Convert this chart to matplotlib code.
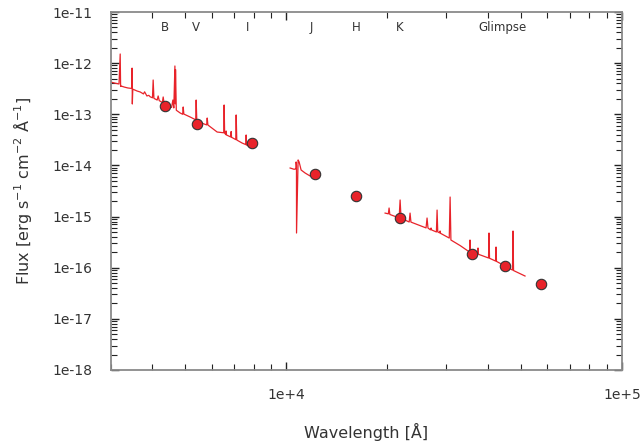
import matplotlib
matplotlib.use("Agg")
import matplotlib.pyplot as plt
from matplotlib.ticker import LogLocator, NullFormatter, FixedLocator

# photometric points (Angstrom, erg/s/cm2/A)
phot_wave = [4365, 5435, 7925, 12200, 16150, 21830, 35800, 44900, 57400]
phot_flux = [1.45e-13, 6.45e-14, 2.75e-14, 6.8e-15, 2.5e-15, 9.3e-16, 1.85e-16, 1.08e-16, 4.8e-17]

# band labels on top
band_names = ["B", "V", "I", "J", "H", "K", "Glimpse"]
band_wave = [4365, 5397, 7700, 11850, 16150, 21830, 44000]

# optical spectrum
opt_wave = [3000, 3100, 3180, 3206, 3215, 3225, 3300, 3380, 3470, 3478, 3484, 3495,
            3600, 3677, 3760, 3790, 3850, 3900, 3937, 4000, 4019, 4040, 4131, 4159,
            4190, 4280, 4305, 4330, 4365, 4560, 4600, 4630, 4665, 4675, 4685, 4710,
            4837, 4920, 4938, 4960, 5179, 5380, 5397, 5420, 5650, 5800, 5821, 5850,
            6232, 6520, 6538, 6560, 6610, 6628, 6645, 6840, 6860, 6880, 7080, 7100,
            7130, 7397, 7590, 7603, 7620, 7977]
opt_flux = [4.28e-13, 4.05e-13, 3.91e-13, 1.51e-12, 3.5e-13, 3.57e-13, 3.4e-13, 3.27e-13, 3.2e-13, 8.0e-13, 1.59e-13, 3.1e-13,
            2.85e-13, 2.73e-13, 2.5e-13, 2.75e-13, 2.28e-13, 2.35e-13, 2.2e-13, 2.1e-13, 4.68e-13, 2.05e-13, 1.9e-13, 2.28e-13,
            1.85e-13, 1.7e-13, 2.18e-13, 1.66e-13, 1.45e-13, 1.36e-13, 1.9e-13, 1.33e-13, 8.8e-13, 1.6e-13, 7.5e-13, 1.2e-13,
            1.06e-13, 1.0e-13, 1.39e-13, 1.01e-13, 8.85e-14, 7.8e-14, 1.9e-13, 7.73e-14, 6.6e-14, 6.2e-14, 8.45e-14, 6.17e-14,
            4.5e-14, 4.35e-14, 1.52e-13, 4.3e-14, 4.0e-14, 4.71e-14, 3.94e-14, 3.6e-14, 4.6e-14, 3.55e-14, 3.2e-14, 9.7e-14,
            3.14e-14, 2.74e-14, 2.55e-14, 3.94e-14, 2.51e-14, 2.19e-14]

# near-IR spectrum
nir_wave = [10278, 10563, 10700, 10710, 10735, 10740, 10857, 10932, 11082, 11389, 11787]
nir_flux = [8.9e-15, 8.4e-15, 8.6e-15, 1.17e-14, 1.0e-14, 4.77e-16, 1.28e-14, 1.17e-14, 8.14e-15, 7.11e-15, 6.21e-15]

# IR spectrum
ir_wave = [19710, 20150, 20257, 20360, 21700, 21846, 21990, 23250, 23390, 23530, 26100, 26280,
           26450, 26900, 27010, 27120, 28020, 28150, 28280, 28650, 28740, 28830, 30600, 30780,
           30950, 33000, 35150, 35280, 35400, 37150, 37270, 37390, 40050, 40190, 40330, 42050,
           42170, 42300, 44860, 47200, 47380, 47550, 51440]
ir_flux = [1.17e-15, 1.13e-15, 1.47e-15, 1.1e-15, 9.4e-16, 2.11e-15, 9.3e-16, 7.83e-16, 1.17e-15, 7.8e-16, 6.0e-16, 9.37e-16,
           5.97e-16, 5.5e-16, 5.97e-16, 5.47e-16, 5.0e-16, 1.34e-15, 5.0e-16, 4.8e-16, 5.22e-16, 4.7e-16, 3.8e-16, 2.41e-15,
           3.48e-16, 2.7e-16, 2.03e-16, 3.48e-16, 2.0e-16, 1.85e-16, 2.43e-16, 1.83e-16, 1.55e-16, 4.77e-16, 1.53e-16, 1.35e-16,
           2.54e-16, 1.33e-16, 1.08e-16, 9.0e-17, 5.22e-16, 8.8e-17, 6.88e-17]

red = "#e8232a"
txt = "#333333"

fig = plt.figure(figsize=(6.44, 4.43), dpi=100)
ax = fig.add_axes([0.1716, 0.1648, 0.7942, 0.8081])

ax.plot(opt_wave, opt_flux, color=red, lw=0.9)
ax.plot(nir_wave, nir_flux, color=red, lw=0.9)
ax.plot(ir_wave, ir_flux, color=red, lw=0.9)
ax.plot(phot_wave, phot_flux, "o", ms=7.5, mfc=red, mec="#333333", mew=0.8, zorder=5)

ax.set_xscale("log")
ax.set_yscale("log")
ax.set_xlim(3000, 1e5)
ax.set_ylim(1e-18, 1e-11)

ax.xaxis.set_major_locator(FixedLocator([1e4, 1e5]))
ax.set_xticklabels(["1e+4", "1e+5"])
ax.xaxis.set_minor_locator(LogLocator(base=10, subs=range(2, 10)))
ax.xaxis.set_minor_formatter(NullFormatter())

yt = [1e-18, 1e-17, 1e-16, 1e-15, 1e-14, 1e-13, 1e-12, 1e-11]
ax.yaxis.set_major_locator(FixedLocator(yt))
ax.set_yticklabels(["1e-18", "1e-17", "1e-16", "1e-15", "1e-14", "1e-13", "1e-12", "1e-11"])
ax.yaxis.set_minor_locator(LogLocator(base=10, subs=range(2, 10), numticks=20))
ax.yaxis.set_minor_formatter(NullFormatter())

ax.tick_params(which="both", direction="in", top=True, right=True, colors="#222222",
               labelcolor=txt, labelsize=10)
ax.tick_params(which="major", length=6, width=1, pad=13)
ax.tick_params(which="minor", length=4, width=0.8)
for s in ax.spines.values():
    s.set_color("#8a8a8a")
    s.set_linewidth(1.3)

for name, w in zip(band_names, band_wave):
    ax.text(w, 5.0e-12, name, ha="center", va="center", fontsize=8.5, color=txt)

ax.set_xlabel("Wavelength [Å]", fontsize=11.5, labelpad=15, color=txt)
ax.set_ylabel("Flux [erg s$^{-1}$ cm$^{-2}$ Å$^{-1}$]", fontsize=11.5, labelpad=13, color=txt)

fig.savefig("out.png", dpi=100)
